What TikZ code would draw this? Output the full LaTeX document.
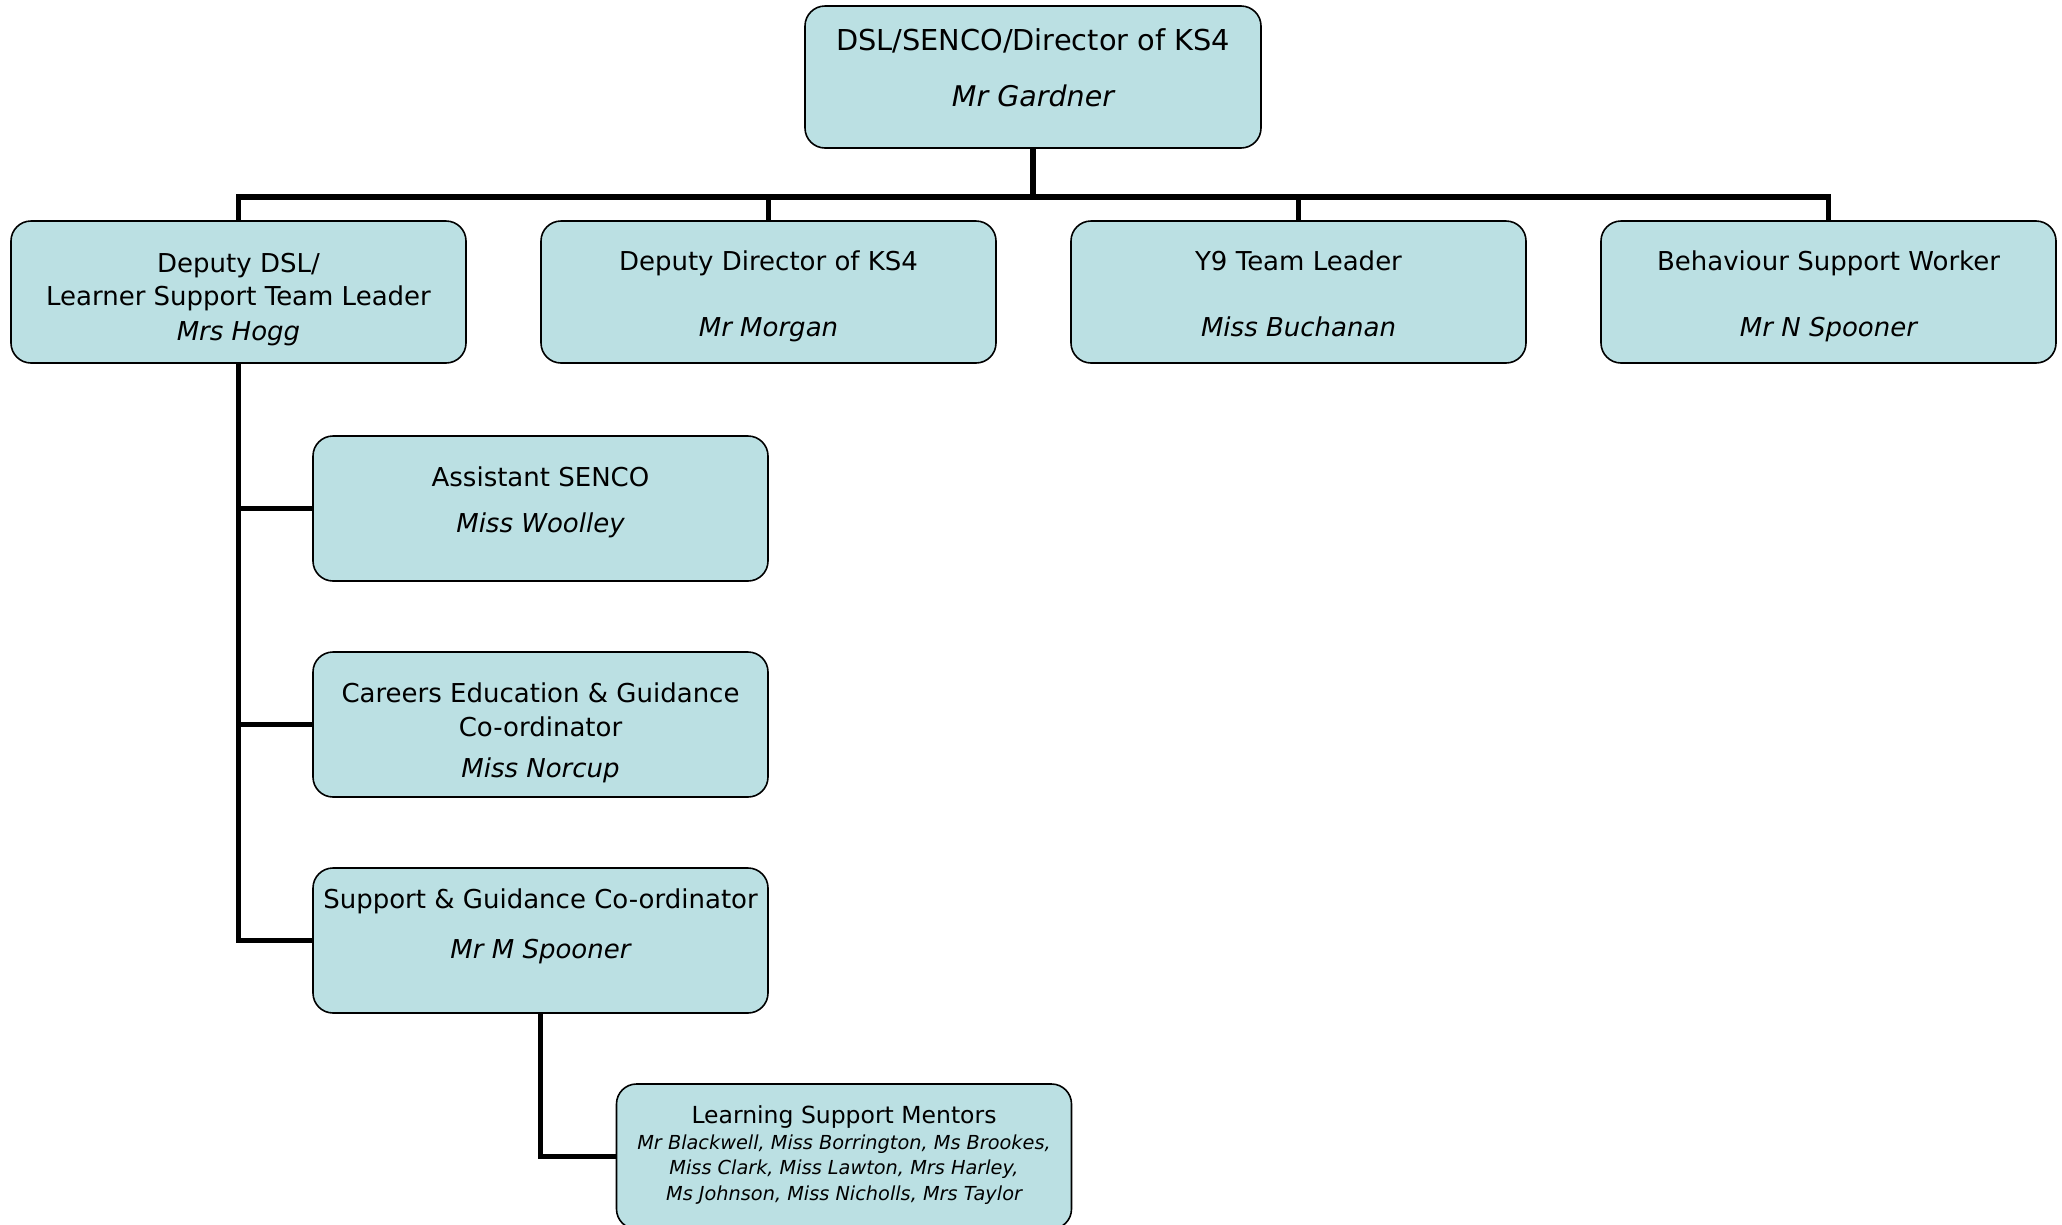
\documentclass[tikz,border=0pt]{standalone}
\usepackage{fontspec}
\setmainfont{DejaVu Sans}
\definecolor{boxfill}{RGB}{187,224,227}
\begin{document}
\begin{tikzpicture}[x=1pt,y=-1pt,
  box/.style={draw=black, line width=1.6pt, fill=boxfill, rounded corners=20pt,
    minimum width=455pt, minimum height=142pt, inner sep=0pt},
  kidbox/.style={box, minimum height=145pt},
  conn/.style={draw=black, line width=5.5pt},
  t/.style={anchor=base, inner sep=0pt, font=\fontsize{26}{30}\selectfont},
  ti/.style={anchor=base, inner sep=0pt, font=\fontsize{26}{30}\selectfont\itshape},
  tbig/.style={anchor=base, inner sep=0pt, font=\fontsize{28.8}{33}\selectfont},
  tibig/.style={anchor=base, inner sep=0pt, font=\fontsize{28.5}{33}\selectfont\itshape},
  tmid/.style={anchor=base, inner sep=0pt, font=\fontsize{23.5}{28}\selectfont},
  tsmall/.style={anchor=base, inner sep=0pt, font=\fontsize{19.3}{23}\selectfont\itshape}]
\useasboundingbox (0,0) rectangle (2062,1224);

% boxes
\node[box, minimum width=456pt] (top) at (1033,77) {};
\node[box] (dsl) at (238.5,292) {};
\node[box] (ddk) at (768.5,292) {};
\node[box] (y9)  at (1298.5,292) {};
\node[box] (bsw) at (1828.5,292) {};
\node[kidbox] (asst) at (540.5,508.5) {};
\node[kidbox] (ceg)  at (540.5,724.5) {};
\node[kidbox] (sgc)  at (540.5,940.5) {};
\node[kidbox] (lsm)  at (844,1156.5) {};

% connectors
\coordinate (bus) at (0,197);
\draw[conn] (top.south) -- (top.south |- bus);
\draw[conn] (dsl.north) -- (dsl.north |- bus) -- (bsw.north |- bus) -- (bsw.north);
\draw[conn] (ddk.north) -- (ddk.north |- bus);
\draw[conn] (y9.north) -- (y9.north |- bus);
\draw[conn] (dsl.south) -- (dsl.south |- sgc.west) -- (sgc.west);
\draw[conn] (dsl.south |- asst.west) -- (asst.west);
\draw[conn] (dsl.south |- ceg.west) -- (ceg.west);
\draw[conn] (sgc.south) |- (lsm.west);

% texts
\node[tbig]  (top1) at (1033,50)  {DSL/SENCO/Director of KS4};
\node[tibig] (top2) at (1033,106) {Mr Gardner};

\node[t]  (dsl1) at (238.5,272) {Deputy DSL/};
\node[t]  (dsl2) at (238.5,305) {Learner Support Team Leader};
\node[ti] (dsl3) at (238.5,340) {Mrs Hogg};

\node[t]  (ddk1) at (768.5,270) {Deputy Director of KS4};
\node[ti] (ddk2) at (768.5,336) {Mr Morgan};

\node[t]  (y91) at (1298.5,270) {Y9 Team Leader};
\node[ti] (y92) at (1298.5,336) {Miss Buchanan};

\node[t]  (bsw1) at (1828.5,270) {Behaviour Support Worker};
\node[ti] (bsw2) at (1828.5,336) {Mr N Spooner};

\node[t]  (asst1) at (540.5,486) {Assistant SENCO};
\node[ti] (asst2) at (540.5,532) {Miss Woolley};

\node[t]  (ceg1) at (540.5,702) {Careers Education \& Guidance};
\node[t]  (ceg2) at (540.5,736) {Co-ordinator};
\node[ti] (ceg3) at (540.5,777) {Miss Norcup};

\node[t]  (sgc1) at (540.5,908.5) {Support \& Guidance Co-ordinator};
\node[ti] (sgc2) at (540.5,958.5) {Mr M Spooner};

\node[tmid]   (lsm1) at (844,1123) {Learning Support Mentors};
\node[tsmall] (lsm2) at (844,1149) {Mr Blackwell, Miss Borrington, Ms Brookes,};
\node[tsmall] (lsm3) at (844,1174.5) {Miss Clark, Miss Lawton, Mrs Harley,};
\node[tsmall] (lsm4) at (844,1200) {Ms Johnson, Miss Nicholls, Mrs Taylor};
\end{tikzpicture}
\end{document}
